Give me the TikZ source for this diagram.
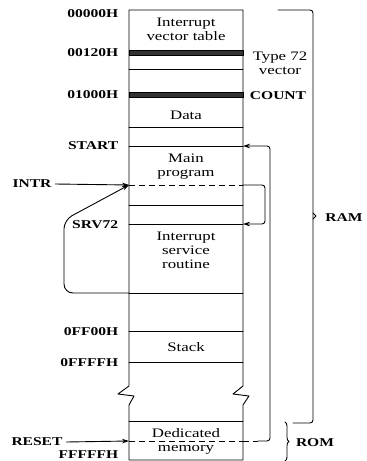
\documentclass[tikz,border=0pt]{standalone}
\usepackage{fontspec}
\setmainfont[FakeStretch=1.3]{Liberation Serif}
\usetikzlibrary{decorations.pathreplacing,arrows.meta}

\begin{document}
\begin{tikzpicture}[x=1bp,y=-1bp,line width=0.9bp,line join=round,line cap=round,
  >={Stealth[length=7bp,width=4.5bp]},
  label/.style={font=\fontsize{12}{14}\selectfont\bfseries},
  addr/.style={label,anchor=east},
  cell/.style={align=center,font=\fontsize{13}{14}\selectfont},
  bar/.style={draw=black,fill=black!80},
  dash7/.style={dash pattern=on 6bp off 4bp,line cap=butt}]
\useasboundingbox (0,0) rectangle (366,461);
\path
(129,10) coordinate (TL)
(243,10) coordinate (TR)
(129,185) coordinate (intrpt)
(243,185) coordinate (mainr)
(243,224) coordinate (srvr)
(129,293) coordinate (iret)
(243,146) coordinate (startr)
(129,441) coordinate (resetpt)
(243,441) coordinate (dedr)
(258,441) coordinate (dedx)
;
% memory column with break
\draw (TL) -- (129,386) -- (118,394) -- (134,396) -- (129,405) -- (129,460)
  -- (243,460) -- (243,405) -- (249,396) -- (233,394) -- (243,386) -- (TR) -- cycle;
\foreach \y in {69,127,146,205,224,293,331,362,421}
  \draw (129,\y) -- (243,\y);
\foreach \y in {185,441}
  \draw[dash7] (129,\y) -- (243,\y);
\foreach \y in {50,92}
  \draw[bar] (129,\y) rectangle (243,\y+5);
% addresses
\foreach \t/\y in {00000H/14, 00120H/53, 01000H/95, START/146, SRV72/225, 0FF00H/332, 0FFFFH/363, FFFFFH/455}
  \node[addr] (a\t) at (122,\y) {\t};
% contents
\node[cell] (ivt) at (186,29) {Interrupt\\vector table};
\node[cell] (data) at (186,115) {Data};
\node[cell] (main) at (186,167) {Main\\program};
\node[cell] (isr) at (186,250) {Interrupt\\service\\routine};
\node[cell] (stack) at (186,347) {Stack};
\node[cell] (ded) at (186,441) {Dedicated\\memory};
\node[cell] (t72) at (280,63) {Type 72\\vector};
\node[label] (count) at (278,96) {COUNT};
\node[label] (intr) at (32,184) {INTR};
\node[label] (reset) at (37,442) {RESET};
\node[label] (ram) at (344,218) {RAM};
\node[label] (rom) at (315,443) {ROM};
% flow
\draw[->] (intr.east) -- (intrpt);
\draw[->] (reset.east) -- (resetpt);
\draw[->,rounded corners=9] (iret) -- (64,293) -- (64,220) -- (intrpt);
\draw[->,rounded corners=3] (mainr) -- (265,185) -- (265,224) -- (srvr);
\draw[dash7] (dedr) -- (dedx);
\draw[->,rounded corners=3] (dedx) -- (270,441) -- (270,146) -- (startr);
% RAM and ROM
\draw[rounded corners=3] (278,10) -- (313,10) -- (313,423) -- (293,423);
\draw (313,213) -- (316,216) -- (313,219);
\draw[decorate,decoration={brace,amplitude=4bp}] (285,422) -- (285,461);
\end{tikzpicture}
\end{document}
